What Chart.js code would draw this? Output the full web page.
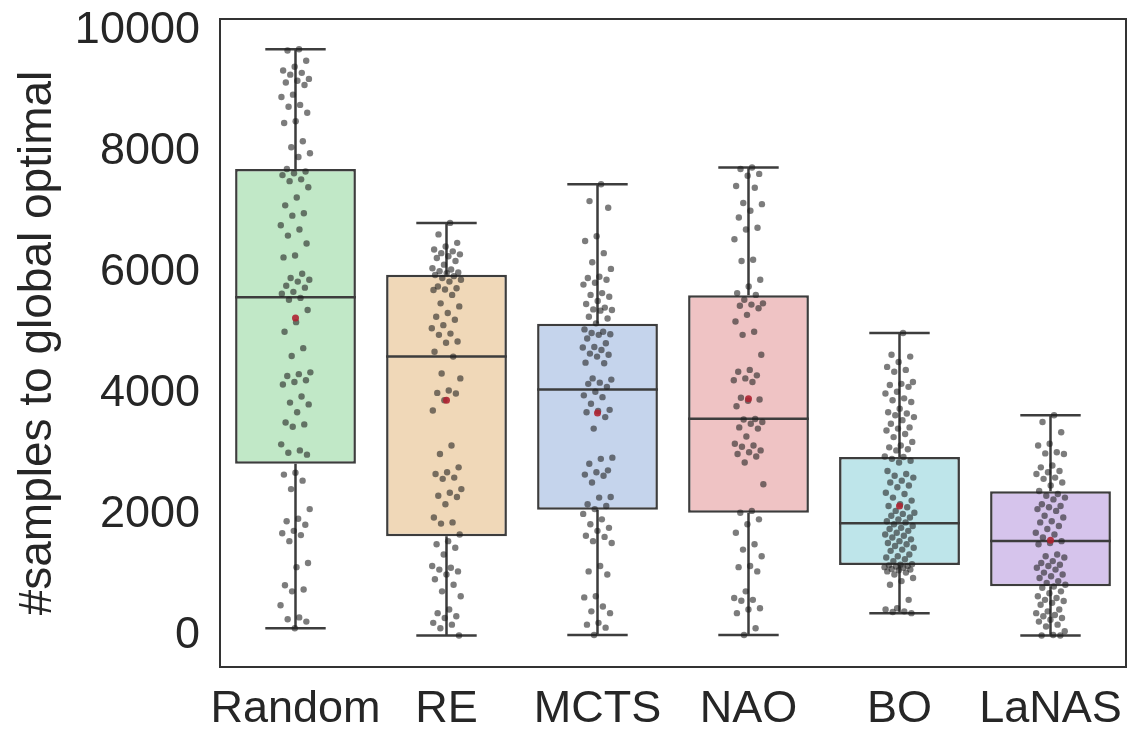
<!DOCTYPE html>
<html>
<head>
<meta charset="utf-8">
<script src="https://cdn.jsdelivr.net/npm/chart.js@4"></script>
<style>
  body { margin: 0; background: #fff; }
  canvas { display: block; }
</style>
</head>
<body>
<canvas id="box" width="1130" height="730"></canvas>
<script>
var methods = ['Random', 'RE', 'MCTS', 'NAO', 'BO', 'LaNAS'];
var yTicks = [0, 2000, 4000, 6000, 8000, 10000];

// box stats per method (samples needed to hit the global optimum)
var whiskerLow  = [120, 0, 10, 10, 370, 0];
var q1          = [2840, 1640, 2080, 2030, 1165, 815];
var median      = [5590, 4610, 4065, 3585, 1855, 1562];
var q3          = [7710, 5965, 5155, 5625, 2950, 2385];
var whiskerHigh = [9690, 6820, 7460, 7735, 5000, 3640];
var means       = [5250, 3890, 3680, 3915, 2143, 1573];

// individual runs
var randomRuns = [9690, 9670, 9500, 9400, 9340, 9300, 9270, 9200, 9170, 9140, 9100, 8940, 8900, 8770, 8740,
  8640, 8500, 8470, 8170, 8070, 7970, 7910, 7710, 7670, 7640, 7610, 7540, 7510, 7410, 7240, 7110, 6980,
  6940, 6780, 6710, 6610, 6480, 6280, 6250, 5980, 5910, 5880, 5850, 5780, 5750, 5680, 5650, 5580, 5550,
  5380, 5180, 5020, 4750, 4620, 4350, 4320, 4290, 4220, 4190, 4150, 3950, 3850, 3820, 3690, 3520, 3490,
  3450, 3160, 3060, 3020, 2990, 2690, 2660, 2560, 2420, 2090, 1930, 1890, 1830, 1730, 1690, 1660, 1560,
  1200, 1130, 830, 760, 730, 500, 300, 270, 230, 120];
var reRuns = [6820, 6630, 6490, 6430, 6380, 6350, 6320, 6300, 6270, 6240, 6190, 6130, 6070, 6050, 6020,
  6000, 5990, 5960, 5940, 5910, 5880, 5850, 5770, 5740, 5720, 5710, 5630, 5490, 5440, 5330, 5270, 5220,
  5130, 5080, 4990, 4970, 4860, 4840, 4690, 4610, 4330, 4250, 4050, 4010, 4000, 3890, 3720, 3140, 3000,
  2780, 2700, 2670, 2610, 2590, 2420, 2360, 2310, 2290, 2170, 1950, 1870, 1850, 1670, 1560, 1510, 1450,
  1340, 1150, 1120, 1090, 1060, 1010, 930, 840, 730, 650, 430, 370, 320, 290, 210, 180, 120, 0];
var mctsRuns = [7460, 7180, 7070, 6600, 6520, 6320, 6170, 6060, 5930, 5910, 5880, 5830, 5800, 5660, 5630,
  5600, 5530, 5480, 5420, 5390, 5380, 5370, 5270, 5240, 5160, 5060, 5020, 5000, 4980, 4970, 4910, 4830,
  4770, 4760, 4720, 4660, 4640, 4610, 4510, 4500, 4250, 4230, 4180, 4160, 4110, 4030, 3970, 3940, 3830,
  3730, 3710, 3690, 3610, 3420, 2940, 2920, 2840, 2730, 2700, 2660, 2640, 2530, 2290, 2280, 2170, 2140,
  2090, 2010, 1920, 1840, 1780, 1730, 1650, 1630, 1560, 1530, 1150, 1060, 1010, 650, 630, 480, 400, 370,
  210, 180, 130, 10];
var naoRuns = [7735, 7710, 7630, 7600, 7430, 7400, 7150, 7130, 7020, 6910, 6740, 6710, 6550, 6210, 6190,
  5880, 5770, 5660, 5630, 5550, 5490, 5470, 5450, 5410, 5300, 5190, 5020, 4970, 4640, 4390, 4360, 4300,
  4250, 4220, 4190, 3930, 3900, 3880, 3790, 3580, 3570, 3530, 3500, 3440, 3420, 3290, 3170, 3140, 3120,
  3060, 3030, 3000, 2960, 2860, 2500, 2060, 2030, 1920, 1840, 1700, 1510, 1420, 1310, 1150, 1130, 1060,
  730, 620, 590, 575, 450, 430, 370, 120, 10];
var boRuns = [5000, 4640, 4610, 4520, 4440, 4390, 4360, 4190, 4160, 4140, 4110, 4030, 4000, 3920, 3890,
  3860, 3750, 3690, 3670, 3640, 3610, 3560, 3500, 3440, 3420, 3390, 3330, 3280, 3200, 3140, 3110, 3080,
  3060, 2960, 2950, 2920, 2890, 2860, 2720, 2670, 2640, 2610, 2560, 2530, 2480, 2450, 2360, 2340, 2280,
  2230, 2170, 2140, 2120, 2060, 2030, 2010, 1980, 1950, 1920, 1890, 1870, 1840, 1810, 1780, 1760, 1730,
  1700, 1670, 1650, 1620, 1590, 1560, 1530, 1510, 1480, 1450, 1420, 1400, 1340, 1310, 1290, 1260, 1230,
  1180, 1170, 1160, 1150, 1140, 1130, 1120, 1100, 1090, 1080, 1060, 1040, 1010, 950, 900, 840, 590, 450,
  430, 400, 390, 370];
var lanasRuns = [3640, 3530, 3360, 3170, 3140, 3030, 3010, 3000, 2810, 2780, 2720, 2700, 2670, 2610, 2590,
  2530, 2480, 2390, 2340, 2310, 2280, 2250, 2170, 2140, 2120, 2090, 2060, 1980, 1950, 1890, 1870, 1810,
  1760, 1700, 1670, 1620, 1560, 1530, 1510, 1340, 1310, 1290, 1230, 1200, 1170, 1150, 1120, 1090, 1040,
  1010, 980, 950, 900, 870, 840, 810, 790, 730, 700, 650, 620, 590, 570, 540, 510, 430, 400, 370, 340,
  320, 290, 260, 230, 180, 150, 70, 10, 0, 0];

var runs = [randomRuns, reRuns, mctsRuns, naoRuns, boRuns, lanasRuns];
var boxColors = ['#c1e8c7', '#f0d8b8', '#c5d4ec', '#efc3c4', '#bee5ea', '#d6c4ec'];

var edge = '#3d3d3d';
var textColor = '#262626';
var fontFamily = '"Liberation Sans", Arial, Helvetica, sans-serif';

// whisker stems + caps, broken up with null gaps
var whiskerPts = [];
var medianPts = [];
methods.forEach(function (m, i) {
  whiskerPts.push({x: i, y: whiskerLow[i]}, {x: i, y: q1[i]}, {x: i, y: null});
  whiskerPts.push({x: i, y: q3[i]}, {x: i, y: whiskerHigh[i]}, {x: i, y: null});
  whiskerPts.push({x: i - 0.2, y: whiskerLow[i]}, {x: i + 0.2, y: whiskerLow[i]}, {x: i, y: null});
  whiskerPts.push({x: i - 0.2, y: whiskerHigh[i]}, {x: i + 0.2, y: whiskerHigh[i]}, {x: i, y: null});
  medianPts.push({x: i - 0.4, y: median[i]}, {x: i + 0.4, y: median[i]}, {x: i, y: null});
});

// strip plot: spread each run sideways a little so they don't stack
function jitter(j) {
  return (((j + 1) * 0.6180339887) % 1 - 0.5) * 0.2;
}
var stripPts = [];
runs.forEach(function (vals, i) {
  vals.forEach(function (v, j) {
    stripPts.push({x: i + jitter(j), y: v});
  });
});
var meanPts = means.map(function (v, i) { return {x: i, y: v}; });

var framePlugin = {
  id: 'frame',
  afterDraw: function (chart) {
    var a = chart.chartArea, ctx = chart.ctx;
    ctx.save();
    ctx.strokeStyle = '#333';
    ctx.lineWidth = 2;
    ctx.strokeRect(a.left, a.top, a.right - a.left, a.bottom - a.top);
    ctx.restore();
  }
};

Chart.defaults.font.family = fontFamily;
Chart.defaults.color = textColor;

new Chart(document.getElementById('box'), {
  type: 'bar',
  data: {
    labels: methods,
    datasets: [
      {
        type: 'scatter', xAxisID: 'xs', order: 0,
        data: meanPts,
        pointRadius: 3.5, pointBackgroundColor: 'rgba(175,35,50,0.9)', pointBorderWidth: 0
      },
      {
        type: 'scatter', xAxisID: 'xs', order: 1,
        data: stripPts,
        pointRadius: 3.2, pointBackgroundColor: 'rgba(30,30,30,0.58)', pointBorderWidth: 0
      },
      {
        type: 'scatter', xAxisID: 'xs', order: 2,
        data: medianPts, showLine: true, spanGaps: false,
        borderColor: edge, borderWidth: 2.5, pointRadius: 0
      },
      {
        type: 'scatter', xAxisID: 'xs', order: 3,
        data: whiskerPts, showLine: true, spanGaps: false,
        borderColor: edge, borderWidth: 2.5, pointRadius: 0
      },
      {
        order: 4,
        data: methods.map(function (m, i) { return [q1[i], q3[i]]; }),
        backgroundColor: boxColors,
        borderColor: edge,
        borderWidth: 2.5,
        borderSkipped: false,
        grouped: false,
        barPercentage: 0.8,
        categoryPercentage: 1.0
      }
    ]
  },
  options: {
    responsive: false,
    animation: false,
    layout: { padding: { top: 19, right: 2, left: 0, bottom: 0 } },
    plugins: { legend: { display: false }, tooltip: { enabled: false } },
    scales: {
      x: {
        type: 'category',
        offset: true,
        grid: { display: false, drawTicks: false },
        border: { display: false },
        ticks: { font: { size: 45 }, color: textColor, padding: 16,
                 maxRotation: 0, minRotation: 0, autoSkip: false },
        afterFit: function (s) {
          s.height = 63;
          s.paddingLeft = 0;
          s.paddingRight = 0;
        }
      },
      xs: {
        type: 'linear',
        display: false,
        offset: false,
        grid: { offset: false },
        min: -0.5,
        max: 5.5
      },
      y: {
        min: -520,
        max: 10190,
        grid: { display: false, drawTicks: false },
        border: { display: false },
        afterBuildTicks: function (s) {
          s.ticks = yTicks.map(function (v) { return {value: v}; });
        },
        ticks: {
          font: { size: 45 }, color: textColor, padding: 20,
          callback: function (v) { return String(v); }
        },
        title: {
          display: true,
          text: '#samples to global optimal',
          font: { size: 46 },
          color: textColor,
          padding: { top: 11, bottom: 0 }
        },
        afterFit: function (s) {
          s.width = 220;
          s.paddingTop = 0;
          s.paddingBottom = 0;
        }
      }
    }
  },
  plugins: [framePlugin]
});
</script>
</body>
</html>
